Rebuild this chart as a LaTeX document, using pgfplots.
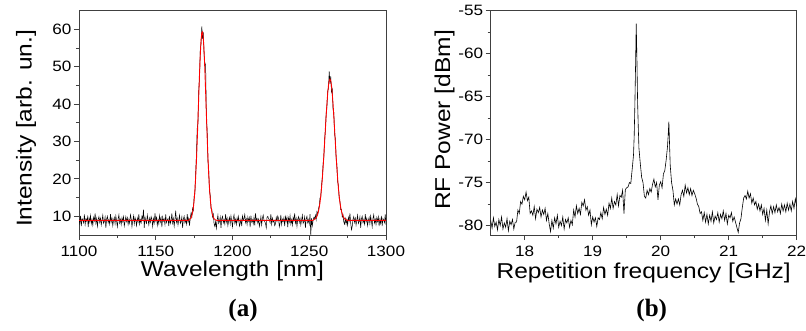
\documentclass[border=0pt]{standalone}
\usepackage{pgfplots}
\pgfplotsset{compat=1.18}
\usepackage{pgfplotstable}
\usepackage{fontspec}
\setmainfont{Liberation Sans}
\newfontfamily\timesfont{Liberation Serif}

\pgfplotstableread{
x y
1100.0 9.2
1100.5 8.1
1101.0 10.1
1101.5 7.4
1102.0 9.4
1102.5 9.0
1103.0 8.3
1103.5 10.5
1104.0 7.8
1104.5 9.3
1105.0 8.7
1105.5 9.8
1106.0 7.1
1106.5 9.6
1107.0 8.5
1107.5 10.2
1108.0 8.0
1108.5 9.1
1109.0 7.6
1109.5 9.7
1110.0 8.8
1110.5 10.8
1111.0 8.2
1111.5 9.4
1112.0 7.3
1112.5 9.2
1113.0 9.9
1113.5 8.4
1114.0 9.5
1114.5 7.7
1115.0 9.0
1115.5 10.3
1116.0 8.1
1116.5 8.6
1117.0 9.8
1117.5 6.9
1118.0 9.3
1118.5 10.0
1119.0 8.3
1119.5 9.1
1120.0 7.9
1120.5 10.6
1121.0 8.5
1121.5 9.5
1122.0 7.5
1122.5 8.9
1123.0 9.7
1123.5 8.0
1124.0 10.1
1124.5 8.7
1125.0 7.2
1125.5 9.4
1126.0 10.4
1126.5 8.2
1127.0 9.2
1127.5 7.8
1128.0 9.6
1128.5 8.6
1129.0 9.9
1129.5 7.4
1130.0 8.6
1130.5 9.9
1131.0 8.6
1131.5 9.6
1132.0 7.8
1132.5 9.2
1133.0 8.2
1133.5 10.4
1134.0 9.4
1134.5 7.2
1135.0 8.7
1135.5 10.1
1136.0 8.0
1136.5 9.7
1137.0 8.9
1137.5 7.5
1138.0 9.5
1138.5 8.5
1139.0 10.6
1139.5 7.9
1140.0 9.1
1140.5 8.3
1141.0 10.0
1141.5 9.3
1142.0 11.8
1142.5 6.9
1143.0 9.8
1143.5 8.6
1144.0 8.1
1144.5 10.3
1145.0 9.0
1145.5 7.7
1146.0 9.5
1146.5 8.4
1147.0 9.9
1147.5 9.2
1148.0 7.3
1148.5 9.4
1149.0 8.2
1149.5 10.8
1150.0 8.8
1150.5 9.7
1151.0 7.6
1151.5 9.1
1152.0 8.0
1152.5 10.2
1153.0 8.5
1153.5 9.6
1154.0 7.1
1154.5 9.8
1155.0 8.7
1155.5 9.3
1156.0 7.8
1156.5 10.5
1157.0 8.3
1157.5 9.0
1158.0 9.4
1158.5 7.4
1159.0 10.1
1159.5 8.1
1160.0 8.8
1160.5 10.8
1161.0 8.2
1161.5 9.4
1162.0 7.3
1162.5 9.2
1163.0 11.5
1163.5 8.4
1164.0 9.5
1164.5 7.7
1165.0 9.0
1165.5 10.3
1166.0 8.1
1166.5 8.6
1167.0 9.8
1167.5 6.9
1168.0 9.3
1168.5 10.0
1169.0 8.3
1169.5 9.1
1170.0 7.9
1170.5 10.6
1171.0 8.5
1171.5 9.5
1172.0 7.5
1172.5 9.6
1173.0 10.9
1173.5 9.8
1174.0 12.2
1174.5 11.6
1175.0 15.3
1175.5 16.2
1176.0 21.5
1176.5 26.4
1177.0 33.5
1177.5 35.0
1178.0 43.6
1178.5 47.0
1179.0 54.5
1179.5 56.2
1180.0 60.8
1180.5 57.5
1181.0 59.2
1181.5 53.1
1182.0 51.0
1182.5 50.5
1183.0 36.0
1183.5 33.0
1184.0 24.8
1184.5 22.5
1185.0 16.8
1185.5 15.6
1186.0 12.1
1186.5 11.9
1187.0 9.8
1187.5 10.6
1188.0 8.0
1188.5 7.3
1189.0 8.6
1189.5 6.8
1190.0 9.0
1190.5 10.3
1191.0 8.1
1191.5 8.6
1192.0 9.8
1192.5 6.9
1193.0 9.3
1193.5 10.0
1194.0 8.3
1194.5 9.1
1195.0 7.9
1195.5 10.6
1196.0 8.5
1196.5 9.5
1197.0 7.5
1197.5 8.9
1198.0 9.7
1198.5 8.0
1199.0 10.1
1199.5 8.7
1200.0 7.2
1200.5 9.4
1201.0 10.4
1201.5 8.2
1202.0 9.2
1202.5 7.8
1203.0 9.6
1203.5 8.6
1204.0 9.9
1204.5 7.4
1205.0 8.1
1205.5 9.2
1206.0 7.4
1206.5 10.1
1207.0 9.0
1207.5 9.4
1208.0 10.5
1208.5 8.3
1209.0 9.3
1209.5 7.8
1210.0 9.8
1210.5 8.7
1211.0 9.6
1211.5 7.1
1212.0 10.2
1212.5 8.5
1213.0 9.1
1213.5 8.0
1214.0 9.7
1214.5 7.6
1215.0 10.8
1215.5 8.8
1216.0 9.4
1216.5 8.2
1217.0 9.2
1217.5 7.3
1218.0 8.4
1218.5 9.9
1219.0 7.7
1219.5 9.5
1220.0 10.3
1220.5 9.0
1221.0 8.6
1221.5 8.1
1222.0 6.9
1222.5 9.8
1223.0 10.0
1223.5 9.3
1224.0 9.1
1224.5 8.3
1225.0 10.6
1225.5 7.9
1226.0 9.5
1226.5 8.5
1227.0 8.9
1227.5 7.5
1228.0 8.0
1228.5 9.7
1229.0 8.7
1229.5 10.1
1230.0 9.4
1230.5 7.2
1231.0 8.2
1231.5 10.4
1232.0 7.8
1232.5 9.2
1233.0 8.6
1233.5 9.6
1234.0 7.4
1234.5 9.9
1235.0 8.7
1235.5 9.8
1236.0 7.1
1236.5 9.6
1237.0 8.5
1237.5 10.2
1238.0 8.0
1238.5 9.1
1239.0 7.6
1239.5 9.7
1240.0 8.8
1240.5 10.8
1241.0 8.2
1241.5 9.4
1242.0 7.3
1242.5 9.2
1243.0 9.9
1243.5 8.4
1244.0 9.5
1244.5 7.7
1245.0 9.0
1245.5 10.3
1246.0 8.1
1246.5 8.6
1247.0 9.8
1247.5 6.9
1248.0 9.3
1248.5 10.0
1249.0 8.3
1249.5 9.1
1250.0 7.9
1250.5 10.6
1251.0 5.0
1251.5 9.5
1252.0 7.5
1252.5 8.9
1253.0 9.7
1253.5 9.4
1254.0 10.3
1254.5 9.1
1255.0 11.2
1255.5 10.4
1256.0 12.0
1256.5 12.8
1257.0 14.9
1257.5 15.2
1258.0 18.4
1258.5 20.3
1259.0 23.9
1259.5 25.8
1260.0 30.6
1260.5 32.9
1261.0 37.5
1261.5 39.2
1262.0 43.5
1262.5 44.2
1263.0 48.8
1263.5 45.5
1264.0 47.4
1264.5 43.2
1265.0 44.0
1265.5 38.6
1266.0 37.8
1266.5 32.0
1267.0 30.8
1267.5 25.5
1268.0 23.9
1268.5 19.2
1269.0 18.3
1269.5 14.8
1270.0 14.0
1270.5 11.8
1271.0 11.9
1271.5 9.8
1272.0 10.4
1272.5 8.5
1273.0 7.9
1273.5 9.4
1274.0 8.0
1274.5 9.1
1275.0 7.6
1275.5 9.7
1276.0 8.8
1276.5 10.8
1277.0 8.2
1277.5 6.4
1278.0 7.3
1278.5 9.2
1279.0 9.9
1279.5 8.4
1280.0 9.5
1280.5 7.7
1281.0 9.0
1281.5 10.3
1282.0 8.1
1282.5 8.6
1283.0 9.8
1283.5 6.9
1284.0 9.3
1284.5 10.0
1285.0 8.3
1285.5 9.1
1286.0 7.9
1286.5 10.6
1287.0 8.5
1287.5 9.5
1288.0 7.5
1288.5 8.9
1289.0 9.7
1289.5 8.0
1290.0 10.1
1290.5 8.7
1291.0 7.2
1291.5 9.4
1292.0 10.4
1292.5 8.2
1293.0 9.2
1293.5 7.8
1294.0 9.6
1294.5 8.6
1295.0 9.9
1295.5 7.4
1296.0 9.2
1296.5 8.1
1297.0 10.1
1297.5 7.4
1298.0 9.4
1298.5 9.0
1299.0 8.3
1299.5 10.5
1300.0 7.8
}\spectrum

\pgfplotstableread{
x y
1100 8.9
1171 8.9
1172 9.1
1173 9.61
1174 11.01
1174.5 12.33
1175 14.25
1175.5 16.91
1176 20.43
1176.5 24.84
1177 30.08
1177.5 35.93
1178 42.04
1178.5 47.95
1179 53.1
1179.5 56.98
1180 59.14
1180.5 59.34
1181 57.56
1181.5 54.0
1182 49.06
1182.5 43.26
1183 37.14
1183.5 31.2
1184 25.83
1184.5 21.24
1185 17.54
1185.5 14.72
1186 12.66
1186.5 11.24
1187 10.3
1188 9.34
1189 9.02
1190 8.9
1252 8.9
1253 9.07
1254 9.36
1255 10.01
1256 11.32
1256.5 12.35
1257 13.7
1257.5 15.42
1258 17.53
1258.5 20.05
1259 22.96
1259.5 26.21
1260 29.69
1260.5 33.26
1261 36.76
1261.5 39.99
1262 42.77
1262.5 44.9
1263 46.24
1263.5 46.7
1264 46.24
1264.5 44.9
1265 42.77
1265.5 39.99
1266 36.76
1266.5 33.26
1267 29.69
1267.5 26.21
1268 22.96
1268.5 20.05
1269 17.53
1269.5 15.42
1270 13.7
1270.5 12.35
1271 11.32
1272 10.01
1273 9.36
1274 9.07
1275 8.9
1300 8.9
}\fit

\pgfplotstableread{
x y
17.50 -79.4
17.52 -80.3
17.54 -79.1
17.56 -80.1
17.58 -79.6
17.60 -80.5
17.62 -79.3
17.64 -80.0
17.66 -79.0
17.68 -80.4
17.70 -79.7
17.72 -80.2
17.74 -79.2
17.76 -80.6
17.78 -79.5
17.80 -79.9
17.82 -79.3
17.84 -80.4
17.86 -79.6
17.88 -79.6
17.90 -78.2
17.92 -78.6
17.94 -77.2
17.96 -77.5
17.98 -76.6
18.00 -77.0
18.02 -76.1
18.04 -77.1
18.06 -76.7
18.08 -78.6
18.10 -78.3
18.12 -78.8
18.14 -77.8
18.16 -79.2
18.18 -78.1
18.20 -78.5
18.22 -77.9
18.24 -79.0
18.26 -78.2
18.28 -78.7
18.30 -78.0
18.32 -79.4
18.34 -78.6
18.36 -79.8
18.38 -80.7
18.40 -79.4
18.42 -80.3
18.44 -79.1
18.46 -79.8
18.48 -78.8
18.50 -80.2
18.52 -79.5
18.54 -80.0
18.56 -79.0
18.58 -80.4
18.60 -79.3
18.62 -79.7
18.64 -79.1
18.66 -80.2
18.68 -79.4
18.70 -79.9
18.72 -78.2
18.74 -79.0
18.76 -77.7
18.78 -78.6
18.80 -78.0
18.82 -78.7
18.84 -77.3
18.86 -77.7
18.88 -77.0
18.90 -78.2
18.92 -77.8
18.94 -78.8
18.96 -78.2
18.98 -79.9
19.00 -79.0
19.02 -79.6
19.04 -79.1
19.06 -80.1
19.08 -79.1
19.10 -79.3
19.12 -78.5
19.14 -79.2
19.16 -77.9
19.18 -78.7
19.20 -78.1
19.22 -78.8
19.24 -77.4
19.26 -78.0
19.28 -76.8
19.30 -78.0
19.32 -77.2
19.34 -77.6
19.36 -76.4
19.38 -77.7
19.40 -76.5
19.42 -76.7
19.44 -75.9
19.46 -78.6
19.48 -75.8
19.50 -75.6
19.52 -75.5
19.54 -75.0
19.56 -75.1
19.58 -73.5
19.60 -71.8
19.61 -69.6
19.62 -66.0
19.63 -61.5
19.64 -56.5
19.65 -60.5
19.66 -65.5
19.67 -68.5
19.68 -71.0
19.70 -72.8
19.72 -74.4
19.74 -75.0
19.76 -76.6
19.78 -76.8
19.80 -75.9
19.82 -76.4
19.84 -75.7
19.86 -76.1
19.88 -75.2
19.90 -74.6
19.92 -75.5
19.94 -75.0
19.96 -77.0
19.98 -75.3
20.00 -74.9
20.02 -75.6
20.04 -74.0
20.06 -73.6
20.08 -72.4
20.10 -70.8
20.11 -69.5
20.12 -67.9
20.13 -70.5
20.14 -73.0
20.16 -75.0
20.18 -75.9
20.20 -77.6
20.22 -76.9
20.24 -77.5
20.26 -76.9
20.28 -77.6
20.30 -76.4
20.32 -75.9
20.34 -76.6
20.36 -75.3
20.38 -76.2
20.40 -75.6
20.42 -76.4
20.44 -75.7
20.46 -76.5
20.48 -75.9
20.50 -76.3
20.52 -76.8
20.54 -77.5
20.56 -77.8
20.58 -78.6
20.60 -78.4
20.62 -79.4
20.64 -78.5
20.66 -79.6
20.68 -78.7
20.70 -79.8
20.72 -78.8
20.74 -79.5
20.76 -78.4
20.78 -79.7
20.80 -78.9
20.82 -79.3
20.84 -78.5
20.86 -79.6
20.88 -78.7
20.90 -79.2
20.92 -78.3
20.94 -79.4
20.96 -78.6
20.98 -79.8
21.00 -78.8
21.02 -79.1
21.04 -78.5
21.06 -79.5
21.08 -79.0
21.10 -79.6
21.12 -80.2
21.14 -80.8
21.16 -79.7
21.18 -79.2
21.20 -77.9
21.22 -76.8
21.24 -76.5
21.26 -76.9
21.28 -76.0
21.30 -76.8
21.32 -76.3
21.34 -77.4
21.36 -76.8
21.38 -77.6
21.40 -77.2
21.42 -78.1
21.44 -77.5
21.46 -78.3
21.48 -77.6
21.50 -78.7
21.52 -78.0
21.54 -79.4
21.56 -78.2
21.58 -79.8
21.60 -78.4
21.62 -77.7
21.64 -78.6
21.66 -77.8
21.68 -78.5
21.70 -77.6
21.72 -78.4
21.74 -77.9
21.76 -78.6
21.78 -77.5
21.80 -78.3
21.82 -77.6
21.84 -78.4
21.86 -77.4
21.88 -78.2
21.90 -77.5
21.92 -78.3
21.94 -77.2
21.96 -78.0
21.98 -76.9
22.00 -77.8
}\rfspec

\pgfplotsset{
  myaxis/.style={
    scale only axis,
    anchor=south west,
    axis line style={black!75, line width=0.9pt},
    every tick/.style={black!75, line width=0.9pt},
    tick align=outside,
    tick pos=left,
    major tick length=5pt,
    minor tick length=3pt,
    minor tick num=1,
    tick label style={font=\fontsize{15}{17}\selectfont, inner sep=2pt, xscale=1.14},
    xticklabel style={yshift=-3.5pt},
    label style={font=\fontsize{21.5}{25}\selectfont},
    /pgf/number format/assume math mode=true,
    /pgf/number format/1000 sep={},
  }
}

\begin{document}
\begin{tikzpicture}
\useasboundingbox (0pt,0pt) rectangle (806pt,-330pt);

\begin{axis}[myaxis,
  at={(79pt,-235pt)}, width=307pt, height=224.3pt,
  xmin=1100, xmax=1300, ymin=5, ymax=65,
  xtick={1100,1150,1200,1250,1300},
  ytick={10,20,30,40,50,60},
  xlabel={Wavelength [nm]},
  ylabel={Intensity [arb. un.]},
  xlabel style={at={(axis description cs:0.5,-0.187)}, anchor=base, xscale=1.14},
  ylabel style={at={(axis description cs:-0.154,0.4755)}, anchor=base, xscale=1.14},
]
\addplot[black, line width=0.5pt] table[x=x,y=y] {\spectrum};
\addplot[red, line width=0.9pt] table[x=x,y=y] {\fit};
\end{axis}

\begin{axis}[myaxis,
  at={(490.7pt,-235pt)}, width=306pt, height=224.3pt,
  xmin=17.5, xmax=22, ymin=-81.1, ymax=-55,
  xtick={18,19,20,21,22},
  ytick={-80,-75,-70,-65,-60,-55},
  xlabel={Repetition frequency [GHz]},
  ylabel={RF Power [dBm]},
  xlabel style={at={(axis description cs:0.5,-0.193)}, anchor=base, xscale=1.14},
  ylabel style={at={(axis description cs:-0.133,0.513)}, anchor=base, xscale=1.14},
]
\addplot[black, line width=0.6pt] table[x=x,y=y] {\rfspec};
\end{axis}

\node[font=\timesfont\bfseries\fontsize{25}{29}\selectfont, anchor=base] at (243pt,-316pt) {(a)};
\node[font=\timesfont\bfseries\fontsize{25}{29}\selectfont, anchor=base] at (651.7pt,-316pt) {(b)};
\end{tikzpicture}
\end{document}
